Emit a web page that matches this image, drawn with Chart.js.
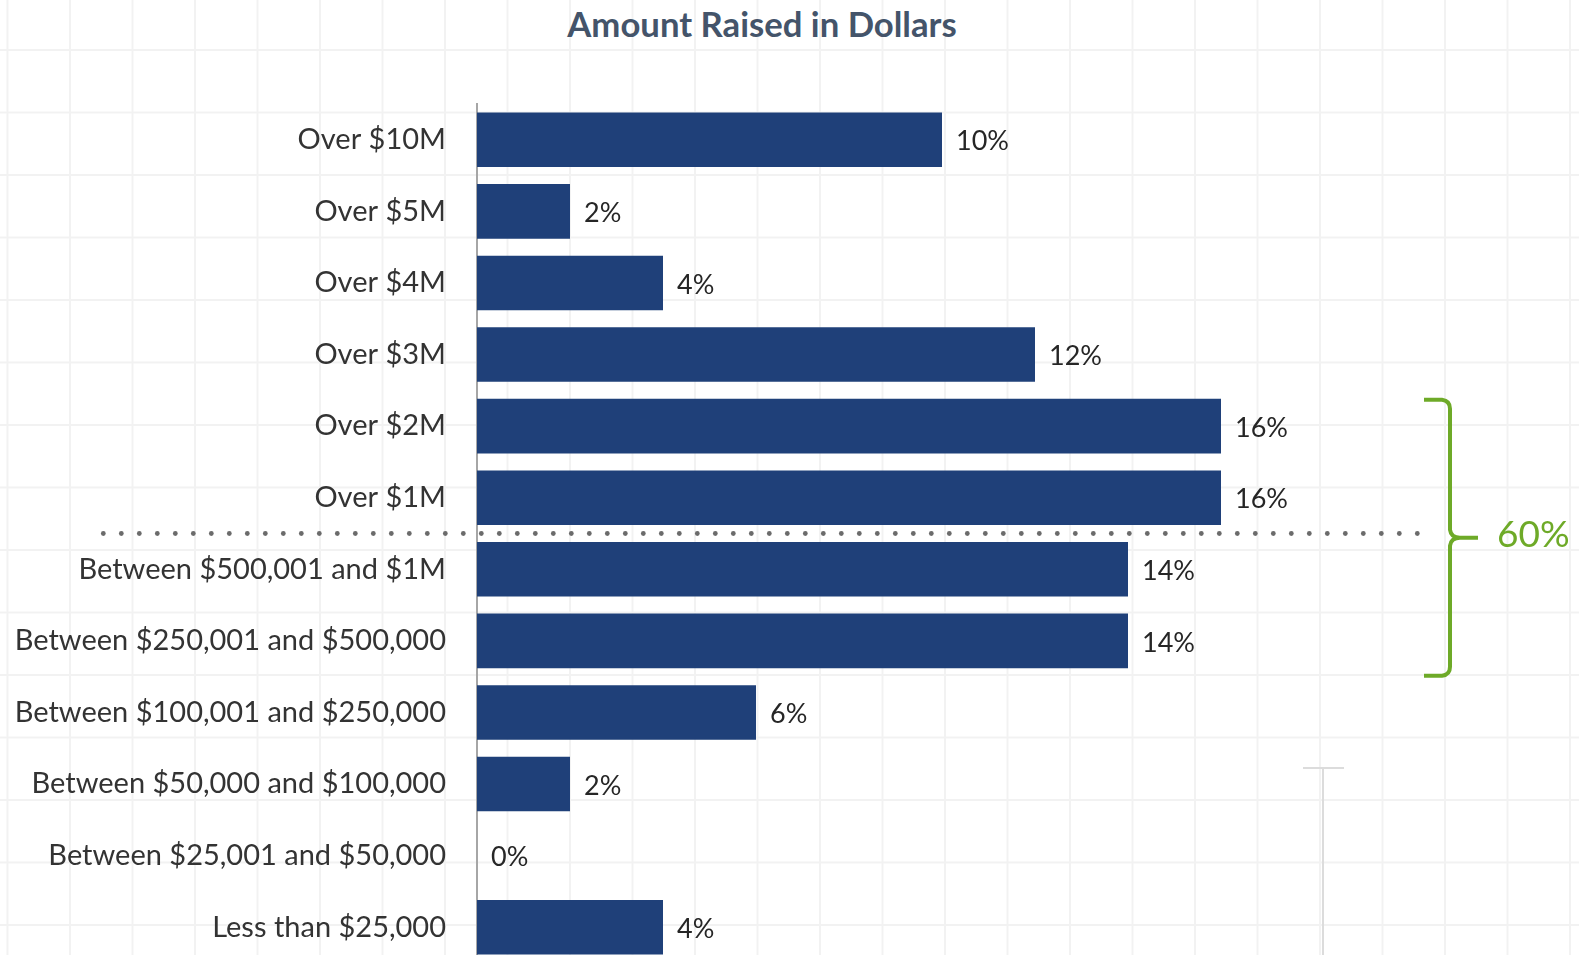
<!DOCTYPE html>
<html>
<head>
<meta charset="utf-8">
<title>Amount Raised in Dollars</title>
<script src="https://cdn.jsdelivr.net/npm/chart.js@4"></script>
<style>
  html, body {
    margin: 0;
    padding: 0;
    width: 1579px;
    height: 955px;
    overflow: hidden;
    background-color: #fff;
    background-image:
      linear-gradient(to right, #f2f2f2 2px, transparent 2px),
      linear-gradient(to bottom, #f2f2f2 2px, transparent 2px);
    background-size: 62.5px 62.5px;
    background-position: 6.5px 49px;
  }
  #title {
    position: absolute;
    left: 0;
    top: 3px;
    width: 1524px;
    line-height: 48px;
    text-align: center;
    font: bold 34.7px Lato, "Open Sans", sans-serif;
    color: #44546a;
  }
  #chart {
    position: absolute;
    left: 0;
    top: 0;
  }
</style>
</head>
<body>
<div id="title">Amount Raised in Dollars</div>
<canvas id="chart" width="1579" height="965"></canvas>
<script>
  const categories = [
    "Over $10M",
    "Over $5M",
    "Over $4M",
    "Over $3M",
    "Over $2M",
    "Over $1M",
    "Between $500,001 and $1M",
    "Between $250,001 and $500,000",
    "Between $100,001 and $250,000",
    "Between $50,000 and $100,000",
    "Between $25,001 and $50,000",
    "Less than $25,000",
  ];
  const shares = [10, 2, 4, 12, 16, 16, 14, 14, 6, 2, 0, 4];

  // bracket groups "Over $2M" .. "Between $250,001 and $500,000"
  const bracketFrom = 4;
  const bracketTo = 7;
  const bracketLabel = "60%";
  // dotted divider sits between "Over $1M" and "Between $500,001 and $1M"
  const dividerAfter = 5;

  const green = "#6eaa28";

  const annotate = {
    id: "annotate",
    afterDatasetsDraw(chart) {
      const { ctx, chartArea, scales: { y } } = chart;
      const meta = chart.getDatasetMeta(0);
      ctx.save();

      // value labels
      ctx.font = "27px Lato";
      ctx.fillStyle = "#262626";
      ctx.textBaseline = "middle";
      ctx.textAlign = "left";
      meta.data.forEach((bar, i) => {
        ctx.fillText(shares[i] + "%", bar.x + 14, bar.y + 2);
      });

      // dotted divider
      const band = y.getPixelForValue(1) - y.getPixelForValue(0);
      const yDiv = y.getPixelForValue(dividerAfter) + band / 2;
      ctx.fillStyle = "#6b6b6b";
      for (let k = 0; k < 74; k++) {
        ctx.beginPath();
        ctx.arc(103.3 + k * 18, yDiv, 2.4, 0, Math.PI * 2);
        ctx.fill();
      }

      // green bracket
      const barHalf = meta.data[bracketFrom].height / 2;
      const top = y.getPixelForValue(bracketFrom) - barHalf;
      const bottom = y.getPixelForValue(bracketTo) + band / 2;
      const mid = (top + bottom) / 2;
      const xv = chartArea.right + 43;
      ctx.strokeStyle = green;
      ctx.lineWidth = 4;
      ctx.lineCap = "butt";
      ctx.beginPath();
      ctx.moveTo(xv - 26, top + 1);
      ctx.lineTo(xv - 8, top + 1);
      ctx.quadraticCurveTo(xv, top + 2, xv, top + 10);
      ctx.lineTo(xv, mid - 8);
      ctx.quadraticCurveTo(xv + 1, mid, xv + 10, mid);
      ctx.lineTo(xv + 28, mid);
      ctx.moveTo(xv + 10, mid);
      ctx.quadraticCurveTo(xv + 1, mid, xv, mid + 8);
      ctx.lineTo(xv, bottom - 10);
      ctx.quadraticCurveTo(xv, bottom - 2, xv - 8, bottom - 1);
      ctx.lineTo(xv - 26, bottom - 1);
      ctx.stroke();

      ctx.fillStyle = green;
      ctx.font = "37px Lato";
      ctx.fillText(bracketLabel, xv + 47, mid - 3);

      // faint leftover marker at the lower right
      ctx.strokeStyle = "#dcdcdc";
      ctx.lineWidth = 2;
      ctx.beginPath();
      ctx.moveTo(1303, 768);
      ctx.lineTo(1344, 768);
      ctx.moveTo(1323, 768);
      ctx.lineTo(1323, 960);
      ctx.stroke();

      ctx.restore();
    },
  };

  new Chart(document.getElementById("chart"), {
    type: "bar",
    data: {
      labels: categories,
      datasets: [
        {
          data: shares,
          backgroundColor: "#1f4079",
          borderWidth: 0,
          barPercentage: 0.763,
          categoryPercentage: 1,
        },
      ],
    },
    options: {
      indexAxis: "y",
      responsive: false,
      animation: false,
      devicePixelRatio: 1,
      layout: { padding: { top: 104, bottom: 2, left: 0, right: 172 } },
      plugins: {
        legend: { display: false },
        title: { display: false },
        tooltip: { enabled: false },
      },
      scales: {
        x: {
          display: false,
          min: 0,
          max: 20,
        },
        y: {
          grid: { display: false, drawTicks: false },
          border: { display: true, color: "#a6a6a6", width: 2 },
          ticks: {
            padding: 31,
            color: "#333333",
            font: { family: "Lato", size: 29 },
          },
          afterFit(scale) {
            scale.width = 477;
            scale.paddingTop = 0;
            scale.paddingBottom = 0;
          },
        },
      },
    },
    plugins: [annotate],
  });
</script>
</body>
</html>
